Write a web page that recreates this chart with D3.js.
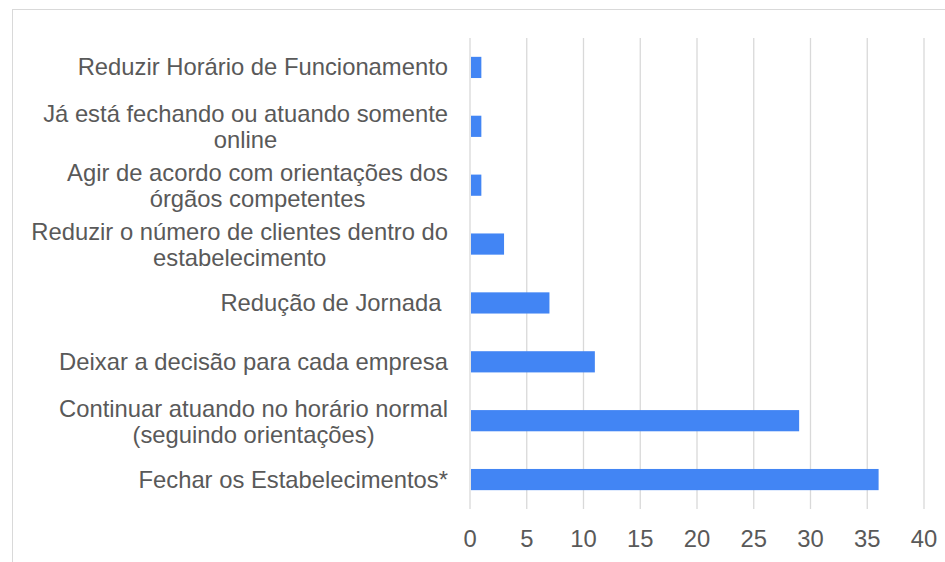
<!DOCTYPE html>
<html>
<head>
<meta charset="utf-8">
<script src="https://cdn.jsdelivr.net/npm/d3@7"></script>
<style>
  body { margin: 0; background: #fff; }
  svg { font-family: "Liberation Sans", Arial, sans-serif; }
  .cat-label { fill: #595959; white-space: pre; }
  .tick-label { fill: #595959; }
</style>
</head>
<body>
<div id="chart"></div>
<script>
// Data (top to bottom)
const categories = [
  ["Reduzir Horário de Funcionamento"],
  ["Já está fechando ou atuando somente", "online"],
  ["Agir de acordo com orientações dos", "órgãos competentes"],
  ["Reduzir o número de clientes dentro do", "estabelecimento"],
  ["Redução de Jornada "],
  ["Deixar a decisão para cada empresa"],
  ["Continuar atuando no horário normal", "(seguindo orientações)"],
  ["Fechar os Estabelecimentos*"]
]
const values = [1, 1, 1, 3, 7, 11, 29, 36]
const tickValues = [0, 5, 10, 15, 20, 25, 30, 35, 40]

// Dimensions
const width = 945
const height = 562
const plotLeft = 470
const plotRight = 924
const plotTop = 38
const plotBottom = 509
const labelRight = 448
const labelSize = 23.8
const lineGap = 26

const svg = d3.select("#chart")
  .append("svg")
    .attr("width", width)
    .attr("height", height)

// outer frame
svg.append("rect")
  .attr("x", 12.5)
  .attr("y", 9.5)
  .attr("width", width)
  .attr("height", height)
  .attr("fill", "none")
  .attr("stroke", "#d9d9d9")
  .attr("stroke-width", 1)

const x = d3.scaleLinear().domain([0, 40]).range([plotLeft, plotRight])
const y = d3.scaleBand()
  .domain(d3.range(categories.length))
  .range([plotTop, plotBottom])
  .paddingInner(0.64)
  .paddingOuter(0.32)

// gridlines
svg.selectAll(".grid")
  .data(tickValues)
  .enter().append("line")
  .attr("x1", function(d) { return x(d) })
  .attr("x2", function(d) { return x(d) })
  .attr("y1", plotTop)
  .attr("y2", plotBottom)
  .attr("stroke", "#d9d9d9")
  .attr("stroke-width", 1.3)

// bars
svg.selectAll(".bar")
  .data(values)
  .enter().append("rect")
  .attr("x", x(0) + 1)
  .attr("y", function(d, i) { return y(i) })
  .attr("width", function(d) { return x(d) - x(0) - 1 })
  .attr("height", y.bandwidth())
  .attr("fill", "#4285f4")

// tick labels
svg.selectAll(".tick-label")
  .data(tickValues)
  .enter().append("text")
  .attr("class", "tick-label")
  .attr("x", function(d) { return x(d) })
  .attr("y", 547)
  .attr("text-anchor", "middle")
  .style("font-size", labelSize + "px")
  .text(function(d) { return d })

// category labels, wrapped lines centred on each other, block right aligned
categories.forEach(function(lines, i) {
  const cy = y(i) + y.bandwidth() / 2
  const g = svg.append("g")
  const texts = lines.map(function(line, j) {
    return g.append("text")
      .attr("class", "cat-label")
      .attr("y", cy + 8 - 12 * (lines.length - 1) + j * lineGap)
      .style("font-size", labelSize + "px")
      .text(line)
  })
  if (lines.length === 1) {
    texts[0].attr("x", labelRight).attr("text-anchor", "end")
  } else {
    const maxW = d3.max(texts, function(t) { return t.node().getComputedTextLength() })
    texts.forEach(function(t) {
      t.attr("x", labelRight - maxW / 2).attr("text-anchor", "middle")
    })
  }
})
</script>
</body>
</html>
